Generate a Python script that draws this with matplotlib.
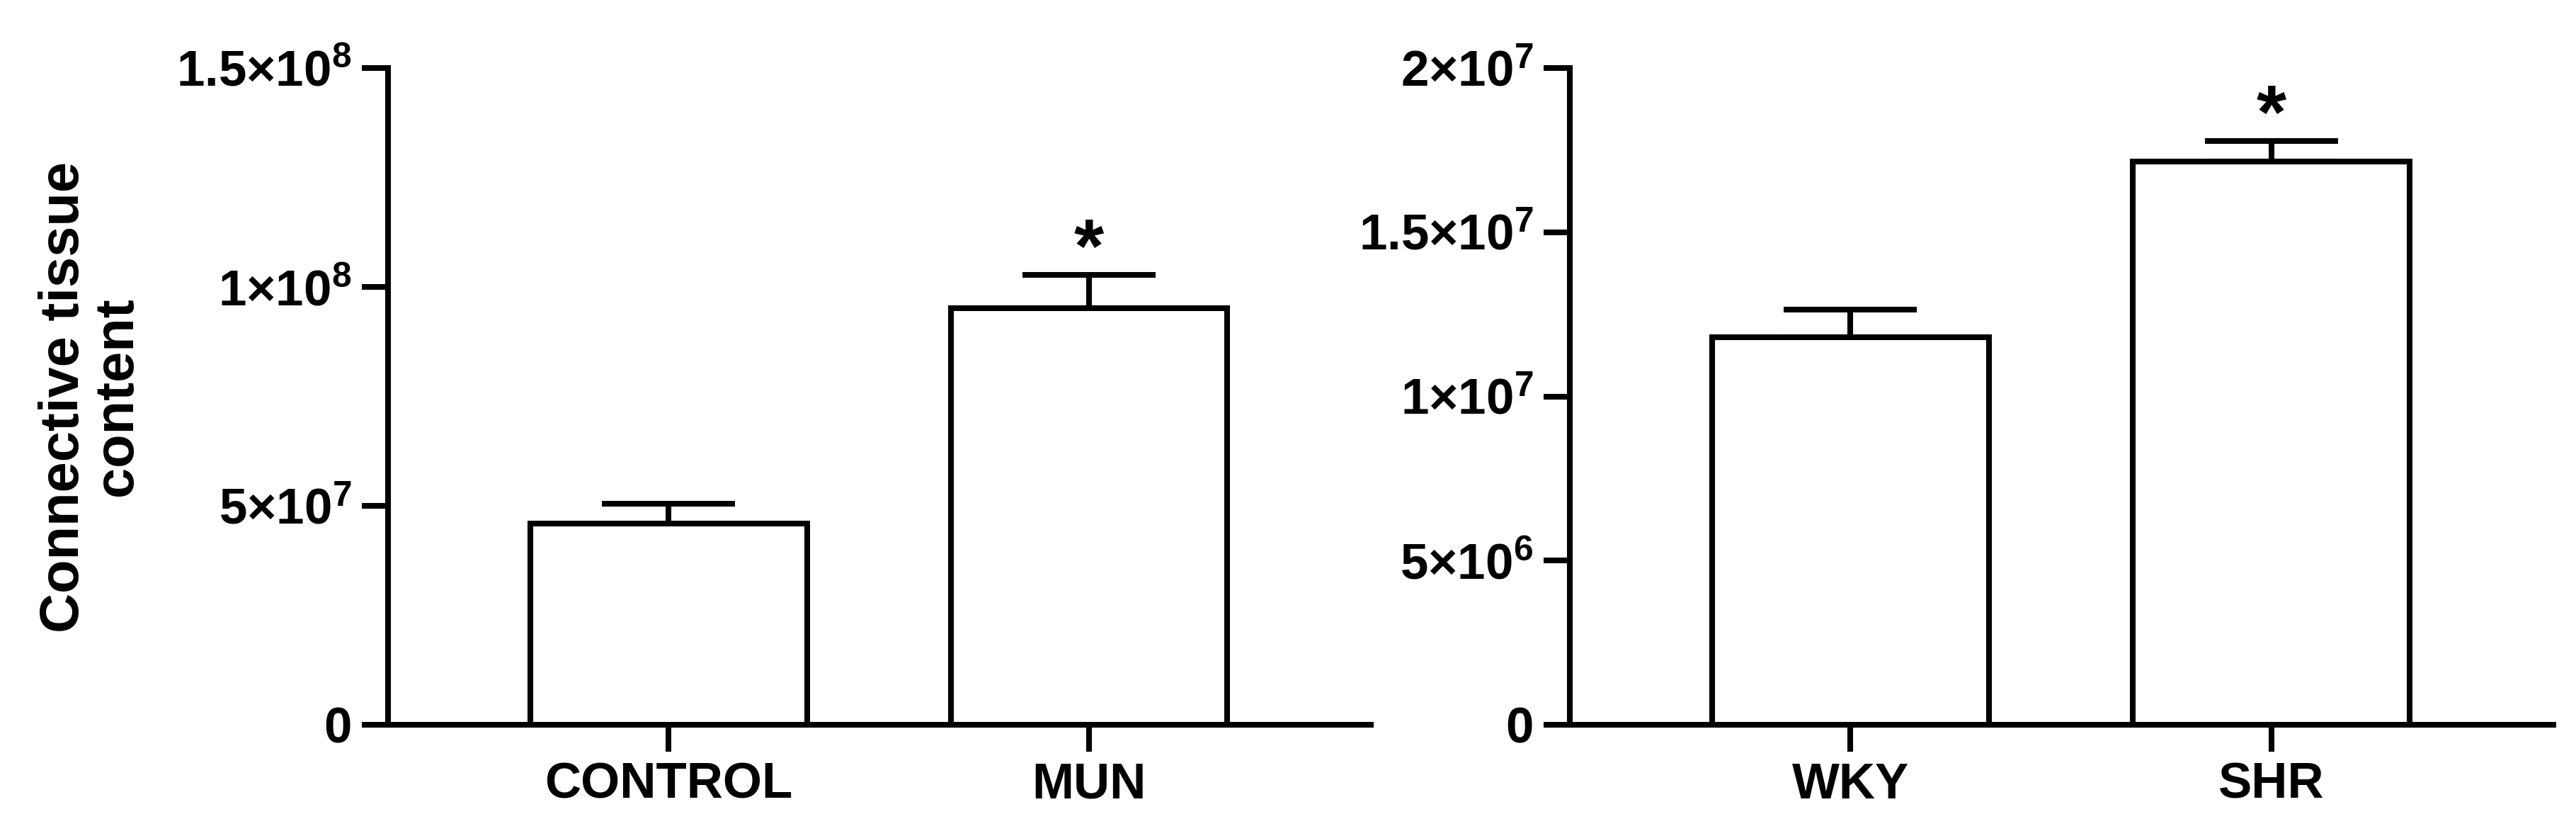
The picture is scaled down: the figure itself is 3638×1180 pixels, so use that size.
import matplotlib
matplotlib.use("Agg")
import matplotlib.pyplot as plt
from matplotlib.ticker import FixedLocator, FixedFormatter
import numpy as np

# data
groups_left = ["CONTROL", "MUN"]
means_left = [4.60e7, 9.52e7]
sem_left = [0.45e7, 0.75e7]
ticks_left = [0, 5e7, 1e8, 1.5e8]
ticklabels_left = ["0", r"$5{\times}10^{7}$", r"$1{\times}10^{8}$", r"$1.5{\times}10^{8}$"]

groups_right = ["WKY", "SHR"]
means_right = [1.18e7, 1.715e7]
sem_right = [0.085e7, 0.062e7]
ticks_right = [0, 5e6, 1e7, 1.5e7, 2e7]
ticklabels_right = ["0", r"$5{\times}10^{6}$", r"$1{\times}10^{7}$", r"$1.5{\times}10^{7}$", r"$2{\times}10^{7}$"]

signif_left = ["", "*"]
signif_right = ["", "*"]

plt.rcParams["font.family"] = "Liberation Sans"
plt.rcParams["font.weight"] = "bold"
plt.rcParams["mathtext.fontset"] = "custom"
plt.rcParams["mathtext.rm"] = "Liberation Sans:bold"
plt.rcParams["mathtext.it"] = "Liberation Sans:bold"
plt.rcParams["mathtext.bf"] = "Liberation Sans:bold"

W, H = 3638, 1180
fig = plt.figure(figsize=(W / 100, H / 100), dpi=100)

lw = 5.8
fs = 51


def panel(left_px, right_px, groups, means, sem, ticks, ticklabels, ymax, signif):
    top_px, bot_px = 96, 1023
    ax = fig.add_axes([left_px / W, 1 - bot_px / H, (right_px - left_px) / W, (bot_px - top_px) / H])
    x = np.arange(len(groups))
    ax.bar(x, means, width=0.658, facecolor="white", edgecolor="black", linewidth=lw, zorder=3)
    ax.errorbar(x, means, yerr=[np.zeros(len(sem)), sem], fmt="none", ecolor="black",
                elinewidth=lw, capsize=68, capthick=lw, zorder=2)
    for xi, m, s, t in zip(x, means, sem, signif):
        if t:
            ax.text(xi, m + s + ymax * 0.035, t, ha="center", va="center",
                    fontsize=78, fontweight="bold")
    ax.set_xlim(-0.667, 1.67)
    ax.set_ylim(0, ymax)
    ax.yaxis.set_major_locator(FixedLocator(ticks))
    ax.yaxis.set_major_formatter(FixedFormatter(ticklabels))
    ax.set_xticks(x)
    ax.set_xticklabels(groups)
    for sp in ["top", "right"]:
        ax.spines[sp].set_visible(False)
    for sp in ["left", "bottom"]:
        ax.spines[sp].set_linewidth(lw)
    ax.tick_params(axis="both", length=27, width=lw, labelsize=fs)
    ax.tick_params(axis="y", pad=10)
    ax.tick_params(axis="x", pad=11)
    for lab in ax.get_xticklabels() + ax.get_yticklabels():
        lab.set_fontweight("bold")
    return ax


panel(548, 1936, groups_left, means_left, sem_left, ticks_left, ticklabels_left, 1.5e8, signif_left)
panel(2217, 3606, groups_right, means_right, sem_right, ticks_right, ticklabels_right, 2e7, signif_right)

fig.text(128 / W, 1 - 560 / H, "Connective tissue\ncontent", rotation=90, ha="center", va="center",
         multialignment="center", fontsize=56, fontweight="bold", linespacing=1.05)

fig.savefig("out.png", dpi=100)
